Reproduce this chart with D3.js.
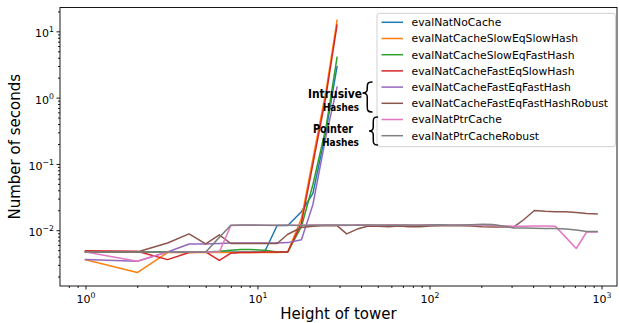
<!DOCTYPE html>
<html>
<head>
<meta charset="utf-8">
<script src="https://cdn.jsdelivr.net/npm/d3@7"></script>
<style>
  body { margin: 0; background: #fff; }
  text { font-family: "DejaVu Sans", sans-serif; fill: #000; }
</style>
</head>
<body>
<svg id="chart" width="619" height="323"></svg>
<script>
// tower heights (x values)
const heightsShort = [1, 2, 3, 4, 5, 6, 7, 8, 9, 11, 13, 15, 18, 21, 25, 29];
const heightsLong = [1, 2, 3, 4, 5, 6, 7, 8, 9, 11, 13, 15, 18, 21, 25, 29,
  33, 38, 44, 50, 58, 66, 76, 88, 101, 116, 133, 153, 176, 203, 233, 268,
  308, 354, 407, 469, 539, 620, 713, 819, 942];

// seconds per series
const noCache = [0.0047, 0.0047, 0.0047, 0.0047, 0.0047, 0.0047, 0.0047, 0.0047, 0.0047, 0.0047, 0.0118, 0.0118, 0.019, 0.036, 0.31, 2.95];
const slowEqSlowHash = [0.0036, 0.0023, 0.0046, 0.0046, 0.0046, 0.0046, 0.0046, 0.0046, 0.0046, 0.0046, 0.0046, 0.0047, 0.015, 0.12, 1.25, 14.7];
const slowEqFastHash = [0.0047, 0.0047, 0.0047, 0.0047, 0.0047, 0.0048, 0.005, 0.0051, 0.0051, 0.005, 0.0047, 0.0047, 0.0113, 0.049, 0.354, 4.06];
const fastEqSlowHash = [0.0049, 0.0048, 0.0036, 0.0046, 0.0047, 0.0035, 0.0045, 0.0046, 0.0046, 0.0047, 0.0047, 0.0047, 0.0128, 0.1, 1.05, 12.4];
const fastEqFastHash = [0.0036, 0.0034, 0.0047, 0.0062, 0.0062, 0.0063, 0.0064, 0.0064, 0.0064, 0.0064, 0.0064, 0.0065, 0.0072, 0.0245, 0.26, 1.44];
const fastEqFastHashRobust = [0.0047, 0.0047, 0.0064, 0.0088, 0.0062, 0.0085, 0.0063, 0.0063, 0.0063, 0.0063, 0.0063, 0.0087, 0.011, 0.0115, 0.0118, 0.0117,
  0.0088, 0.0104, 0.0116, 0.0115, 0.0113, 0.0116, 0.0113, 0.0113, 0.0116, 0.0117, 0.0117, 0.0117, 0.0116, 0.0113, 0.0112, 0.0112,
  0.0111, 0.0145, 0.0198, 0.0193, 0.019, 0.019, 0.0185, 0.0178, 0.0176];
const ptrCache = [0.0047, 0.0034, 0.0047, 0.0047, 0.0047, 0.0047, 0.0118, 0.0119, 0.0119, 0.0119, 0.0118, 0.0119, 0.0119, 0.012, 0.0119, 0.0119,
  0.0118, 0.0121, 0.012, 0.0119, 0.0121, 0.012, 0.0119, 0.012, 0.0121, 0.012, 0.0119, 0.012, 0.0121, 0.012, 0.0119, 0.0116,
  0.0115, 0.0115, 0.0116, 0.0116, 0.0115, 0.0078, 0.0053, 0.0094, 0.0094];
const ptrCacheRobust = [0.0047, 0.0047, 0.0047, 0.0047, 0.0047, 0.0078, 0.0119, 0.012, 0.012, 0.0119, 0.0119, 0.0119, 0.0118, 0.0119, 0.012, 0.012,
  0.012, 0.0119, 0.012, 0.012, 0.0119, 0.012, 0.012, 0.0119, 0.012, 0.0121, 0.012, 0.012, 0.0121, 0.0123, 0.0122, 0.0116,
  0.0108, 0.0108, 0.0107, 0.0106, 0.0106, 0.0104, 0.0101, 0.0096, 0.0096];

const seriesNames = ['evalNatNoCache', 'evalNatCacheSlowEqSlowHash', 'evalNatCacheSlowEqFastHash',
  'evalNatCacheFastEqSlowHash', 'evalNatCacheFastEqFastHash', 'evalNatCacheFastEqFastHashRobust',
  'evalNatPtrCache', 'evalNatPtrCacheRobust'];
const seriesColors = ['#1f77b4', '#ff7f0e', '#2ca02c', '#d62728', '#9467bd', '#8c564b', '#e377c2', '#7f7f7f'];

const xTicks = [1, 10, 100, 1000];
const xTickExp = ['0', '1', '2', '3'];
const yTicks = [0.01, 0.1, 1, 10];
const yTickExp = ['\u22122', '\u22121', '0', '1'];

const series = [
  { x: heightsShort, y: noCache },
  { x: heightsShort, y: slowEqSlowHash },
  { x: heightsShort, y: slowEqFastHash },
  { x: heightsShort, y: fastEqSlowHash },
  { x: heightsShort, y: fastEqFastHash },
  { x: heightsLong, y: fastEqFastHashRobust },
  { x: heightsLong, y: ptrCache },
  { x: heightsLong, y: ptrCacheRobust }
].map((s, i) => ({
  name: seriesNames[i],
  color: seriesColors[i],
  points: s.x.map((h, j) => [h, s.y[j]])
}));

const svg = d3.select('#chart');
const margin = { top: 7.5, right: 2, bottom: 37, left: 60 };
const width = 619 - margin.left - margin.right;
const height = 323 - margin.top - margin.bottom;

const x = d3.scaleLog().domain([0.711, 1230]).range([0, width]);
const y = d3.scaleLog().domain([0.00144, 22.9]).range([height, 0]);

const g = svg.append('g').attr('transform', `translate(${margin.left},${margin.top})`);

// minor tick values for log axes
function minors(scale) {
  const [a, b] = scale.domain();
  const out = [];
  for (let k = Math.floor(Math.log10(a)); k <= Math.ceil(Math.log10(b)); k++) {
    for (let m = 2; m <= 9; m++) {
      const v = m * Math.pow(10, k);
      if (v >= a && v <= b) out.push(v);
    }
  }
  return out;
}

function supLabel(sel, exps, ticks) {
  sel.each(function (d) {
    const t = d3.select(this);
    t.text(null);
    t.append('tspan').text('10');
    t.append('tspan').attr('dy', -5).attr('font-size', 7.8).text(exps[ticks.indexOf(d)]);
  });
}

// x axis
g.append('g')
  .attr('transform', `translate(0,${height})`)
  .call(d3.axisBottom(x).tickValues(minors(x)).tickSize(2).tickFormat(''))
  .call(a => a.select('.domain').remove());

g.append('g')
  .attr('transform', `translate(0,${height})`)
  .call(d3.axisBottom(x).tickValues(xTicks).tickSize(3.5).tickPadding(3.5).tickFormat(''))
  .call(a => a.select('.domain').remove())
  .call(a => a.selectAll('.tick text')
    .attr('font-size', 11).attr('font-family', '"DejaVu Sans", sans-serif')
    .attr('dy', null).attr('y', 17)
    .call(supLabel, xTickExp, xTicks));

// y axis
g.append('g')
  .call(d3.axisLeft(y).tickValues(minors(y)).tickSize(2).tickFormat(''))
  .call(a => a.select('.domain').remove());

g.append('g')
  .call(d3.axisLeft(y).tickValues(yTicks).tickSize(3.5).tickPadding(3.5).tickFormat(''))
  .call(a => a.select('.domain').remove())
  .call(a => a.selectAll('.tick text')
    .attr('font-size', 11).attr('font-family', '"DejaVu Sans", sans-serif')
    .attr('dy', null).attr('y', 5.5).attr('x', -6)
    .call(supLabel, yTickExp, yTicks));

g.selectAll('.tick line').attr('stroke', '#000').attr('stroke-width', 0.9);

// lines
const clipId = 'plotclip';
g.append('clipPath').attr('id', clipId)
  .append('rect').attr('width', width).attr('height', height);

const line = d3.line().x(d => x(d[0])).y(d => y(d[1]));

g.append('g').attr('clip-path', `url(#${clipId})`)
  .selectAll('path')
  .data(series)
  .join('path')
  .attr('d', d => line(d.points))
  .attr('fill', 'none')
  .attr('stroke', d => d.color)
  .attr('stroke-width', 1.5)
  .attr('stroke-linejoin', 'round')
  .attr('stroke-linecap', 'square');

// frame
g.append('rect')
  .attr('width', width).attr('height', height)
  .attr('fill', 'none').attr('stroke', '#000').attr('stroke-width', 0.9);

// axis titles
svg.append('text')
  .attr('x', margin.left + width / 2).attr('y', 318.5)
  .attr('text-anchor', 'middle').attr('font-size', 15)
  .text('Height of tower');

svg.append('text')
  .attr('transform', `translate(19.5,${margin.top + height / 2}) rotate(-90)`)
  .attr('text-anchor', 'middle').attr('font-size', 15)
  .text('Number of seconds');

// legend
const legend = svg.append('g');
legend.append('rect')
  .attr('x', 377).attr('y', 13.3).attr('width', 238.5).attr('height', 133.4)
  .attr('rx', 2.5)
  .attr('fill', '#fff').attr('fill-opacity', 0.8)
  .attr('stroke', '#cccccc').attr('stroke-width', 0.9);

const rows = legend.selectAll('g.row')
  .data(series)
  .join('g')
  .attr('class', 'row')
  .attr('transform', (d, i) => `translate(0,${22.3 + i * 16.2})`);

rows.append('line')
  .attr('x1', 381.5).attr('x2', 403)
  .attr('stroke', d => d.color).attr('stroke-width', 1.5);

rows.append('text')
  .attr('x', 411.5).attr('dy', '0.36em')
  .attr('font-size', 10.8)
  .text(d => d.name);

// hand-written notes
const note = svg.append('g').attr('fill', 'none').attr('stroke', '#000').attr('stroke-width', 1.5)
  .attr('stroke-linecap', 'round');

function brace(x0, x1, y0, y1, tipY) {
  const m = (x0 + x1) / 2;
  return `M${x1},${y0} C${m},${y0} ${m},${y0 + 2} ${m},${y0 + 6} L${m},${tipY - 4}` +
    ` C${m},${tipY - 1} ${x0 + 2},${tipY} ${x0},${tipY}` +
    ` C${x0 + 2},${tipY} ${m},${tipY + 1} ${m},${tipY + 4} L${m},${y1 - 6}` +
    ` C${m},${y1 - 2} ${m},${y1} ${x1},${y1}`;
}
note.append('path').attr('d', brace(362.5, 372, 82, 112, 93));
note.append('path').attr('d', brace(369, 377.5, 117, 145, 131));

const noteText = [
  { t: 'Intrusive', x: 308, y: 97.5, s: 13, w: 54 },
  { t: 'Hashes', x: 323, y: 110.8, s: 10.5, w: 36 },
  { t: 'Pointer', x: 313, y: 132.5, s: 13, w: 40 },
  { t: 'Hashes', x: 322, y: 146.3, s: 11, w: 37 }
];
svg.append('g').selectAll('text')
  .data(noteText)
  .join('text')
  .attr('x', d => d.x).attr('y', d => d.y)
  .attr('font-size', d => d.s)
  .attr('font-weight', 600)
  .attr('textLength', d => d.w)
  .attr('lengthAdjust', 'spacingAndGlyphs')
  .text(d => d.t);
</script>
</body>
</html>
